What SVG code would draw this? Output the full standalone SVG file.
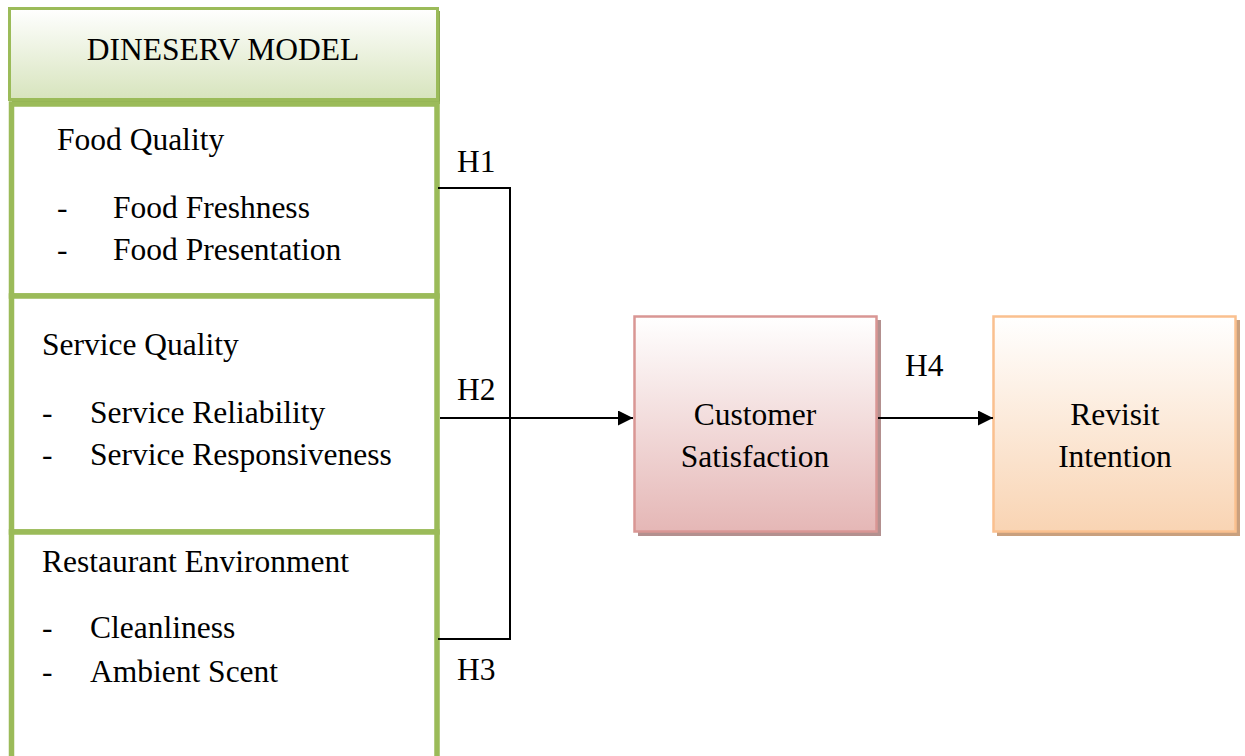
<svg xmlns="http://www.w3.org/2000/svg" width="1245" height="756" viewBox="0 0 1245 756">
  <style>
    text { font-family: "Liberation Serif", "Times New Roman", serif; font-size: 31.5px; fill: #000; }
    .mid { text-anchor: middle; }
    .section { fill: #fff; stroke: #9bbb59; stroke-width: 5.5; }
    .wire { fill: none; stroke: #000; stroke-width: 2; }
  </style>
  <defs>
    <linearGradient id="gGreen" x1="0" y1="0" x2="0" y2="1">
      <stop offset="0" stop-color="#ffffff"/>
      <stop offset="1" stop-color="#d7e4bd"/>
    </linearGradient>
    <linearGradient id="gPink" x1="0" y1="0" x2="0" y2="1">
      <stop offset="0" stop-color="#ffffff"/>
      <stop offset="1" stop-color="#e5b7b6"/>
    </linearGradient>
    <linearGradient id="gOrange" x1="0" y1="0" x2="0" y2="1">
      <stop offset="0" stop-color="#ffffff"/>
      <stop offset="1" stop-color="#f9d4b3"/>
    </linearGradient>
    <marker id="arrow" viewBox="0 0 10 10" refX="10" refY="5" markerWidth="15" markerHeight="15" markerUnits="userSpaceOnUse" orient="auto">
      <path d="M0,0 L10,5 L0,10 z" fill="#000"/>
    </marker>
  </defs>

  <!-- header of the model -->
  <g id="dineserv-header">
    <rect x="12" y="11" width="428" height="93" fill="#8aa84e"/>
    <rect x="9.5" y="8.5" width="428" height="91" fill="url(#gGreen)" stroke="#9bbb59" stroke-width="3"/>
    <text x="223" y="60" class="mid">DINESERV MODEL</text>
  </g>

  <!-- dimension: food -->
  <g id="food-quality">
    <rect x="11.5" y="104" width="425.5" height="192" class="section"/>
    <text x="57" y="150">Food Quality</text>
    <text x="57" y="218">-</text>
    <text x="113" y="218">Food Freshness</text>
    <text x="57" y="260">-</text>
    <text x="113" y="260">Food Presentation</text>
  </g>

  <!-- dimension: service -->
  <g id="service-quality">
    <rect x="11.5" y="296" width="425.5" height="236" class="section"/>
    <text x="42" y="355">Service Quality</text>
    <text x="42" y="423">-</text>
    <text x="90" y="423">Service Reliability</text>
    <text x="42" y="465">-</text>
    <text x="90" y="465">Service Responsiveness</text>
  </g>

  <!-- dimension: environment -->
  <g id="restaurant-environment">
    <rect x="11.5" y="532" width="425.5" height="230" class="section"/>
    <text x="42" y="572">Restaurant Environment</text>
    <text x="42" y="638">-</text>
    <text x="90" y="638">Cleanliness</text>
    <text x="42" y="682">-</text>
    <text x="90" y="682">Ambient Scent</text>
  </g>

  <!-- outcome nodes -->
  <g id="customer-satisfaction">
    <rect x="638" y="320" width="243" height="216" fill="#b3908f"/>
    <rect x="634.5" y="316.5" width="242" height="215" fill="url(#gPink)" stroke="#d99694" stroke-width="2.5"/>
    <text x="755" y="425" class="mid">Customer</text>
    <text x="755" y="467" class="mid">Satisfaction</text>
  </g>

  <g id="revisit-intention">
    <rect x="997" y="320" width="243" height="216" fill="#c9a07e"/>
    <rect x="993.5" y="316.5" width="242" height="215" fill="url(#gOrange)" stroke="#fac08f" stroke-width="2.5"/>
    <text x="1115" y="425" class="mid">Revisit</text>
    <text x="1115" y="467" class="mid">Intention</text>
  </g>

  <!-- hypothesis connectors -->
  <g id="connectors">
    <polyline points="438,188 510,188 510,639 438,639" class="wire"/>
    <line x1="440" y1="418" x2="633" y2="418" class="wire" marker-end="url(#arrow)"/>
    <line x1="878" y1="418" x2="993" y2="418" class="wire" marker-end="url(#arrow)"/>
    <text x="457" y="172">H1</text>
    <text x="457" y="400">H2</text>
    <text x="457" y="680">H3</text>
    <text x="905" y="376">H4</text>
  </g>
</svg>
